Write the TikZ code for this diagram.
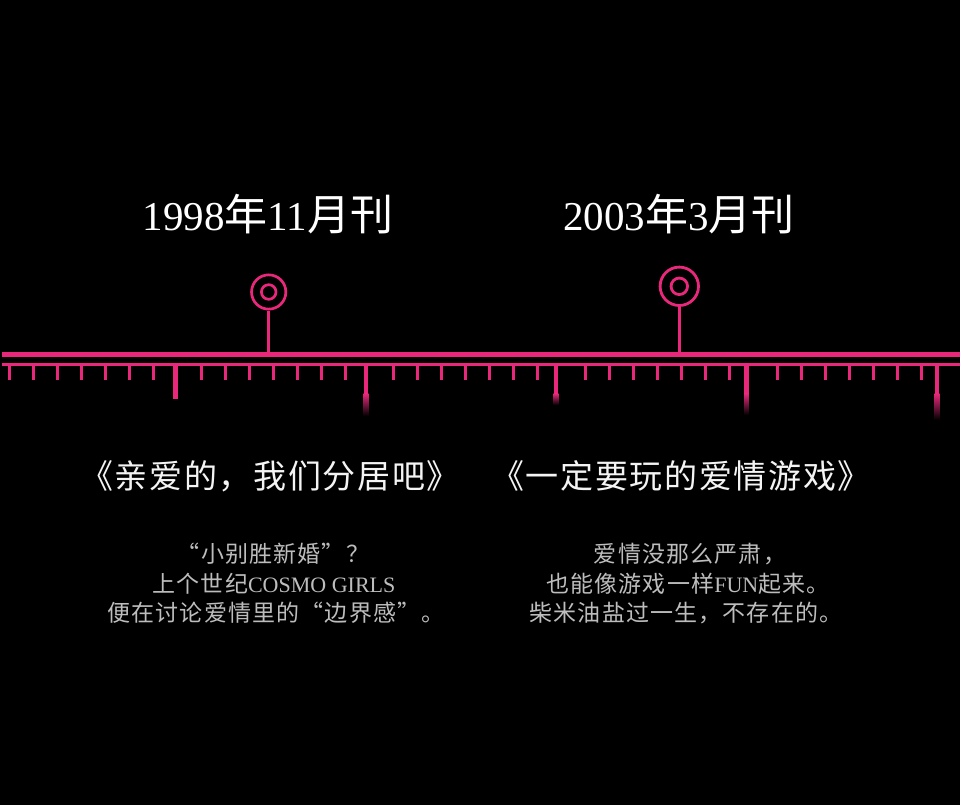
\documentclass[tikz,border=0pt]{standalone}
\usepackage{fontspec}
\setmainfont{Liberation Serif}
\newfontfamily\cjk{Noto Sans CJK SC}
\newfontfamily\cjkhead[LetterSpace=5]{Noto Sans CJK SC}
\newfontfamily\cjkbody[LetterSpace=5]{Noto Sans CJK SC}
\definecolor{rose}{HTML}{E9287C}
\definecolor{headwhite}{HTML}{F4F4F4}
\definecolor{bodygray}{HTML}{BDBDBD}
\newcommand{\tcjk}[1]{{\fontsize{43}{43}\selectfont\cjk #1}}
\newcommand{\blat}[1]{{\rmfamily\fontsize{22}{22}\selectfont #1}}
\begin{document}
\begin{tikzpicture}[x=1pt,y=-1pt,
  titletext/.style={anchor=base, text=white, inner sep=0, font=\rmfamily\fontsize{41}{41}\selectfont},
  headtext/.style={anchor=base, text=headwhite, inner sep=0, font=\cjkhead\fontsize{33}{33}\selectfont},
  bodytext/.style={anchor=base, text=bodygray, inner sep=0, font=\cjkbody\fontsize{23}{23}\selectfont},
  ring/.style={circle, draw=rose, inner sep=0},
  stem/.style={draw=rose},
  smalltick/.style={draw=rose, line width=2.7},
]
\fill[black] (0,0) rectangle (960,805);
\useasboundingbox (0,0) rectangle (960,805);

% main rails
\coordinate (rA0) at (1.5,354.7);
\coordinate (rA1) at (960,354.7);
\coordinate (rB0) at (1.5,364.3);
\coordinate (rB1) at (960,364.3);
\draw[rose, line width=5] (rA0) -- (rA1);
\draw[rose, line width=3.3] (rB0) -- (rB1);

% small ticks
\foreach \g in {0,...,4}{
  \foreach \j in {0,...,6}{
    \pgfmathsetmacro{\tx}{9.8+24*(8*\g+\j)}
    \draw[smalltick] (\tx,365.5) -- (\tx,379.5);
  }
}

% big ticks
\fill[rose] (173.1,365) rectangle (177.9,399);
\foreach \bx/\by in {366/416, 556/405, 746.5/415, 937/420}{
  \fill[rose] (\bx-2.4,365) rectangle (\bx+2.4,394);
  \shade[top color=rose, bottom color=black] (\bx-2.4,393.5) rectangle (\bx+2.4,\by);
}

% marker 1
\node[ring, line width=2.7, minimum size=34.3] (m1) at (268.7,292) {};
\node[ring, line width=2.7, minimum size=14.6] (m1i) at (m1.center) {};
\coordinate (s1) at (268.7,353);
\draw[stem, line width=2.7] (m1.south) -- (s1);

% marker 2
\node[ring, line width=2.8, minimum size=38.4] (m2) at (679.3,286.3) {};
\node[ring, line width=2.8, minimum size=16.5] (m2i) at (m2.center) {};
\coordinate (s2) at (679.3,353);
\draw[stem, line width=2.8] (m2.south) -- (s2);

% titles
\node[titletext] (t1) at (268,230) {1998\tcjk{年}11\tcjk{月刊}};
\node[titletext] (t2) at (679,230) {2003\tcjk{年}3\tcjk{月刊}};

% headlines
\node[headtext] (h1) at (270,488.5) {《亲爱的，我们分居吧》};
\node[headtext] (h2) at (681,488.5) {《一定要玩的爱情游戏》};

% body text left
\node[bodytext] (l1) at (273,562) {“小别胜新婚”？};
\node[bodytext] (l2) at (274,592) {上个世纪\blat{COSMO GIRLS}};
\node[bodytext] (l3) at (276,621) {便在讨论爱情里的“边界感”。};

% body text right
\node[bodytext] (r1) at (690,562) {爱情没那么严肃，};
\node[bodytext] (r2) at (688,592) {也能像游戏一样\blat{FUN}起来。};
\node[bodytext] (r3) at (686,621) {柴米油盐过一生，不存在的。};
\end{tikzpicture}
\end{document}
